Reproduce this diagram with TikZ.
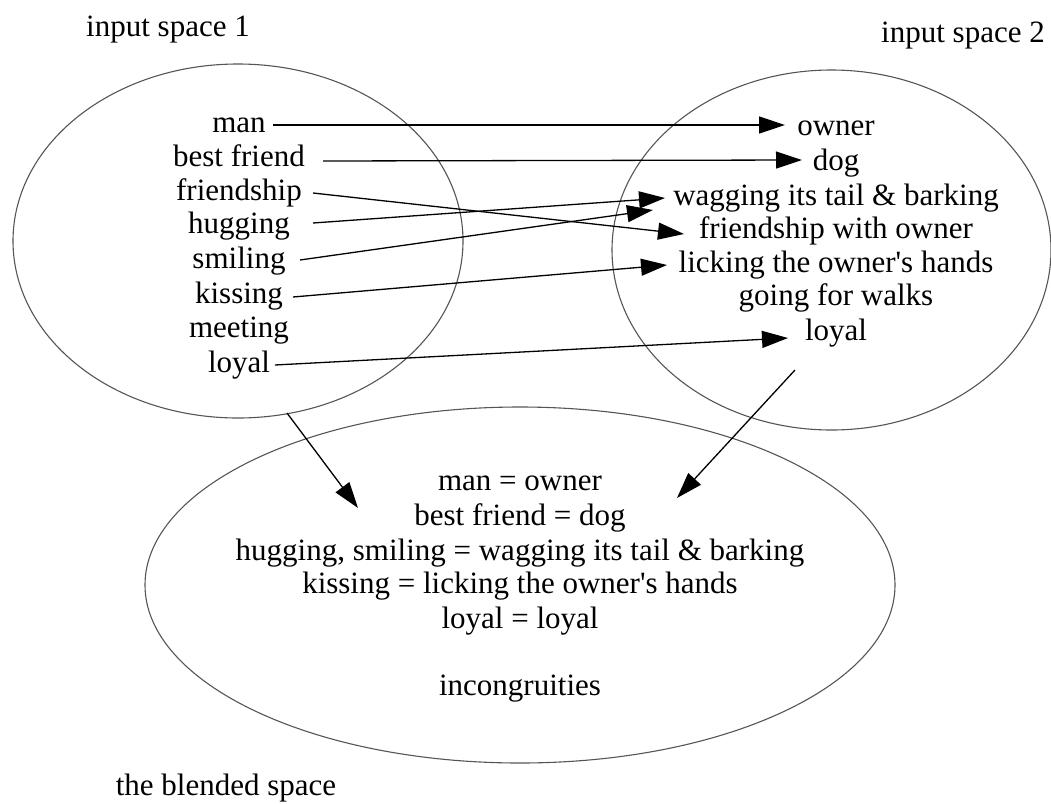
\documentclass[tikz,border=0pt]{standalone}
\usepackage{fontspec}
\setmainfont{Liberation Serif}
\usetikzlibrary{arrows.meta,shapes.geometric}
\definecolor{spacegray}{RGB}{85,85,85}
\begin{document}
\begin{tikzpicture}[x=1pt,y=-1pt,
  lbl/.style={anchor=base,inner sep=0pt,font=\fontsize{31}{34}\selectfont},
  space/.style={draw=spacegray,line width=1.1pt,ellipse,inner sep=0pt},
  maparrow/.style={draw=black,line width=1.3pt,-{Triangle[length=26pt,width=17pt]}}]
\clip (0,0) rectangle (1051,803);

% the three mental spaces
\node[space,minimum width=450pt,minimum height=354pt] (sp1) at (238,241) {};
\node[space,minimum width=439pt,minimum height=360pt] (sp2) at (831.5,250) {};
\node[space,minimum width=750pt,minimum height=356pt] (blend) at (520,585) {};

% space titles
\node[lbl] (title1) at (168,36) {input space 1};
\node[lbl] (title2) at (963,42) {input space 2};
\node[lbl] (title3) at (226,795) {the blended space};

% input space 1
\node[lbl] (man)        at (239,132) {man};
\node[lbl] (bestfriend) at (239,166) {best friend};
\node[lbl] (friendship) at (239,200) {friendship};
\node[lbl] (hugging)    at (239,233) {hugging};
\node[lbl] (smiling)    at (239,268) {smiling};
\node[lbl] (kissing)    at (239,303) {kissing};
\node[lbl] (meeting)    at (239,337) {meeting};
\node[lbl] (loyalA)     at (239,372) {loyal};

% input space 2
\node[lbl] (owner)    at (836,135) {owner};
\node[lbl] (dog)      at (836,170) {dog};
\node[lbl] (wagging)  at (836,205) {wagging its tail \& barking};
\node[lbl] (fwo)      at (836,238) {friendship with owner};
\node[lbl] (licking)  at (836,272) {licking the owner\textquotesingle s hands};
\node[lbl] (walks)    at (836,305) {going for walks};
\node[lbl] (loyalB)   at (836,340) {loyal};

% blended space
\node[lbl] (b1) at (520,490) {man = owner};
\node[lbl] (b2) at (520,525) {best friend = dog};
\node[lbl] (b3) at (520,560) {hugging, smiling = wagging its tail \& barking};
\node[lbl] (b4) at (520,593) {kissing = licking the owner\textquotesingle s hands};
\node[lbl] (b5) at (520,628) {loyal = loyal};
\node[lbl] (b6) at (520,695) {incongruities};

% connector end points
\coordinate (s-man)        at (273,125);
\coordinate (t-owner)      at (785,125);
\coordinate (s-best)       at (323,161);
\coordinate (t-dog)        at (802,160);
\coordinate (s-friendship) at (313,193);
\coordinate (t-fwo)        at (684,234);
\coordinate (s-hugging)    at (313,223);
\coordinate (t-wag1)       at (665,198);
\coordinate (s-smiling)    at (300,260);
\coordinate (t-wag2)       at (653,210);
\coordinate (s-kissing)    at (293,297);
\coordinate (t-licking)    at (667,265);
\coordinate (s-loyal)      at (275,365);
\coordinate (t-loyal)      at (788,338);
\coordinate (s-sp1)        at (287,413);
\coordinate (t-blend1)     at (358,508);
\coordinate (s-sp2)        at (795,370);
\coordinate (t-blend2)     at (677,498);

% cross-space mappings
\draw[maparrow] (s-man) -- (t-owner);
\draw[maparrow] (s-best) -- (t-dog);
\draw[maparrow] (s-friendship) -- (t-fwo);
\draw[maparrow] (s-hugging) -- (t-wag1);
\draw[maparrow] (s-smiling) -- (t-wag2);
\draw[maparrow] (s-kissing) -- (t-licking);
\draw[maparrow] (s-loyal) -- (t-loyal);

% projections into the blend
\draw[maparrow] (s-sp1) -- (t-blend1);
\draw[maparrow] (s-sp2) -- (t-blend2);
\end{tikzpicture}
\end{document}
